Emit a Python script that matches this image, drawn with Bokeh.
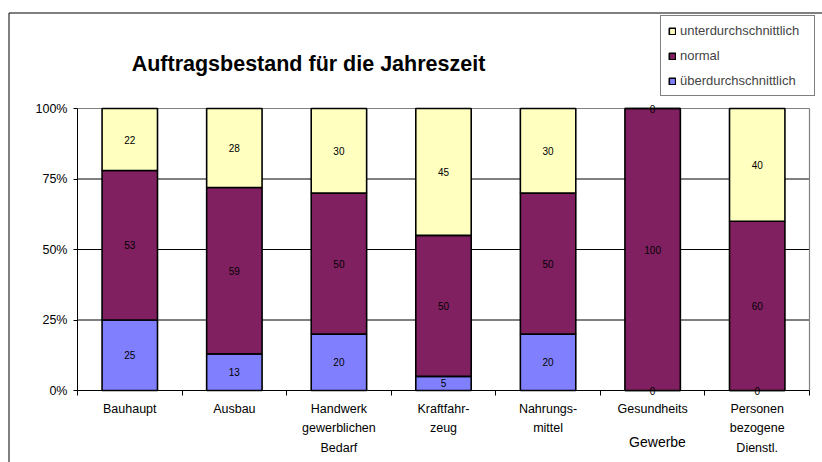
import numpy as np
from bokeh.plotting import figure
from bokeh.models import ColumnDataSource, Range1d, FixedTicker, Legend, LegendItem, Label
from bokeh.core.properties import value
from bokeh.embed import file_html
from bokeh.resources import INLINE

# ---- data ----
categories = ["Bauhaupt", "Ausbau", "Handwerk\ngewerblichen\nBedarf", "Kraftfahr-\nzeug",
              "Nahrungs-\nmittel", "Gesundheits", "Personen\nbezogene\nDienstl."]
ueberdurchschnittlich = [25, 13, 20, 5, 20, 0, 0]
normal = [53, 59, 50, 50, 50, 100, 60]
unterdurchschnittlich = [22, 28, 30, 45, 30, 0, 40]
series_keys = ["ueber", "normal", "unter"]
series_names = ["überdurchschnittlich", "normal", "unterdurchschnittlich"]
series_colors = ["#8080FF", "#802060", "#FFFFC0"]
y_ticks = [0, 25, 50, 75, 100]
y_tick_labels = ["0%", "25%", "50%", "75%", "100%"]
title_text = "Auftragsbestand für die Jahreszeit"
x_axis_title = "Gewerbe"

FONT = "Liberation Sans"

# ---- layout (canvas pixels) ----
W, H = 822, 462
PA_LEFT, PA_RIGHT, PA_TOP, PA_BOTTOM = 77, 809, 108, 390   # plot area inside canvas
FRAME_LEFT, FRAME_TOP = 8.5, 12.5                           # outer chart frame

n = len(categories)
xs = list(range(n))
x_lo, x_hi = -0.5, n - 0.5
y_lo, y_hi = y_ticks[0], y_ticks[-1]
kx = (PA_RIGHT - PA_LEFT) / (x_hi - x_lo)
ky = (PA_BOTTOM - PA_TOP) / (y_hi - y_lo)
x_start = x_lo - PA_LEFT / kx
x_end = x_hi + (W - PA_RIGHT) / kx
y_start = y_lo - (H - PA_BOTTOM) / ky
y_end = y_hi + PA_TOP / ky

source = ColumnDataSource(dict(x=xs, ueber=ueberdurchschnittlich, normal=normal, unter=unterdurchschnittlich))

p = figure(width=W, height=H, x_range=Range1d(x_start, x_end), y_range=Range1d(y_start, y_end),
           output_backend="svg", toolbar_location=None,
           min_border_left=0, min_border_right=0, min_border_top=0, min_border_bottom=0)
p.outline_line_color = None
p.background_fill_color = "white"
p.border_fill_color = "white"
p.xgrid.grid_line_color = None
p.ygrid.grid_line_color = None

# outer chart frame (left and top edges; the rest lies outside the window)
fx = x_start + FRAME_LEFT / kx
fy = y_end - FRAME_TOP / ky
p.line(x=[fx, fx, x_end], y=[y_start, fy, fy], line_color="black", line_width=1)

# gridlines inside the plot area only
grid_vals = y_ticks[1:-1]
p.segment(x0=[x_lo] * len(grid_vals), x1=[x_hi] * len(grid_vals), y0=grid_vals, y1=grid_vals,
          line_color="black", line_width=1)

# plot-area border (grey top and right)
p.segment(x0=[x_lo, x_hi], y0=[y_hi, y_lo], x1=[x_hi, x_hi], y1=[y_hi, y_hi],
          line_color="#808080", line_width=1.2)

renderers = p.vbar_stack(series_keys, x="x", width=0.53, source=source,
                         fill_color=series_colors, line_color="black", line_width=1.6)

# value labels
vals = np.array([ueberdurchschnittlich, normal, unterdurchschnittlich], dtype=float)
tops = np.cumsum(vals, axis=0)
centers = tops - vals / 2.0
lab_x, lab_y, lab_t = [], [], []
for s in range(vals.shape[0]):
    for i in range(n):
        lab_x.append(xs[i])
        lab_y.append(centers[s, i])
        lab_t.append(str(int(vals[s, i])))
p.text(x=lab_x, y=lab_y, text=lab_t, text_align="center", text_baseline="middle",
       text_font=value(FONT), text_font_size="10px", text_color="black")

# axes, fixed inside the frame
p.xaxis.fixed_location = y_lo
p.xaxis.bounds = (x_lo, x_hi)
p.xaxis.ticker = FixedTicker(ticks=xs, minor_ticks=[i - 0.5 for i in range(n + 1)])
p.xaxis.major_label_overrides = {i: categories[i] for i in range(n)}
p.xaxis.major_tick_out = 0
p.xaxis.major_tick_in = 0
p.xaxis.minor_tick_out = 5
p.xaxis.minor_tick_in = 0
p.xaxis.minor_tick_line_color = "black"
p.xaxis.axis_line_color = "black"
p.xaxis.major_label_standoff = 6
p.xaxis.major_label_text_font = FONT
p.xaxis.major_label_text_font_size = "12.5px"
p.xaxis.major_label_text_line_height = 1.42
p.xaxis.major_label_text_color = "black"

p.yaxis.fixed_location = x_lo
p.yaxis.bounds = (y_lo, y_hi)
p.yaxis.ticker = FixedTicker(ticks=y_ticks)
p.yaxis.major_label_overrides = {t: l for t, l in zip(y_ticks, y_tick_labels)}
p.yaxis.major_tick_out = 4
p.yaxis.major_tick_in = 0
p.yaxis.minor_tick_line_color = None
p.yaxis.axis_line_color = "black"
p.yaxis.major_tick_line_color = "black"
p.yaxis.major_label_standoff = 6
p.yaxis.major_label_text_font = FONT
p.yaxis.major_label_text_font_size = "12.5px"
p.yaxis.major_label_text_color = "black"

# legend
items = [LegendItem(label=series_names[k], renderers=[renderers[k]]) for k in [2, 1, 0]]
legend = Legend(items=items, location=(660, H - 96), orientation="vertical",
                border_line_color="black", border_line_width=1, background_fill_color="white",
                background_fill_alpha=1.0, label_text_font=FONT, label_text_font_size="13px",
                glyph_width=8, glyph_height=8, label_standoff=4, padding=7, spacing=10,
                label_height=14, label_width=127, margin=0)
p.add_layout(legend, "center")

# title and x axis title
p.add_layout(Label(x=308, y=H - 63, x_units="screen", y_units="screen", text=title_text,
                   text_align="center", text_baseline="alphabetic", text_font=FONT,
                   text_font_size="21.5px", text_font_style="bold", text_color="black"))
p.add_layout(Label(x=657, y=H - 441, x_units="screen", y_units="screen", text=x_axis_title,
                   text_align="center", text_baseline="middle", text_font=FONT,
                   text_font_size="14px", text_color="black"))

open("out.html", "w").write(file_html(p, INLINE))
